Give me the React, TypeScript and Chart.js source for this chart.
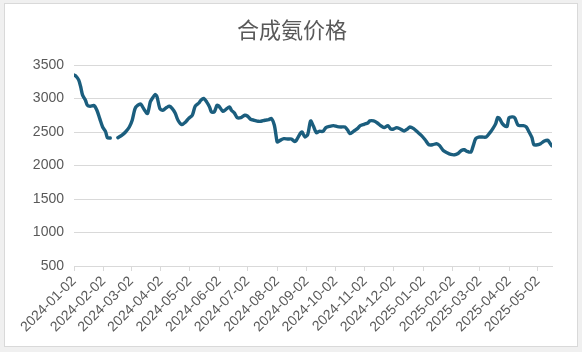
import React, { useEffect, useRef } from "react";
import { Chart, registerables } from "chart.js";

Chart.register(...registerables);

const TITLE = "合成氨价格";

const dates: string[] = [
  "2024-01-02","2024-01-04","2024-01-07","2024-01-09","2024-01-11","2024-01-14","2024-01-16","2024-01-19",
  "2024-01-23","2024-01-26","2024-01-29","2024-02-01","2024-02-04","2024-02-06","2024-02-09","2024-02-12",
  "2024-02-17","2024-02-21","2024-02-25","2024-02-29","2024-03-03","2024-03-06","2024-03-09","2024-03-12",
  "2024-03-16","2024-03-19","2024-03-22","2024-03-24","2024-03-27","2024-03-29","2024-04-01","2024-04-04",
  "2024-04-08","2024-04-11","2024-04-14","2024-04-17","2024-04-20","2024-04-24","2024-04-28","2024-05-01",
  "2024-05-05","2024-05-08","2024-05-12","2024-05-14","2024-05-17","2024-05-20","2024-05-23","2024-05-25",
  "2024-05-28","2024-05-31","2024-06-02","2024-06-06","2024-06-09","2024-06-13","2024-06-15","2024-06-18",
  "2024-06-21","2024-06-25","2024-06-29","2024-07-02","2024-07-05","2024-07-09","2024-07-13","2024-07-16",
  "2024-07-20","2024-07-24","2024-07-27","2024-07-30","2024-08-01","2024-08-02","2024-08-05","2024-08-09",
  "2024-08-13","2024-08-17","2024-08-20","2024-08-22","2024-08-26","2024-08-28","2024-08-31","2024-09-03",
  "2024-09-06","2024-09-09","2024-09-12","2024-09-15","2024-09-19","2024-09-22","2024-09-26","2024-09-30",
  "2024-10-04","2024-10-08","2024-10-12","2024-10-15","2024-10-17","2024-10-21","2024-10-25","2024-10-28",
  "2024-11-01","2024-11-05","2024-11-07","2024-11-11","2024-11-15","2024-11-18","2024-11-22","2024-11-26",
  "2024-11-29","2024-12-02","2024-12-05","2024-12-09","2024-12-13","2024-12-17","2024-12-19","2024-12-23",
  "2024-12-27","2024-12-31","2025-01-04","2025-01-08","2025-01-12","2025-01-16","2025-01-19","2025-01-23",
  "2025-01-27","2025-01-31","2025-02-04","2025-02-07","2025-02-11","2025-02-14","2025-02-17","2025-02-21",
  "2025-02-23","2025-02-26","2025-03-01","2025-03-05","2025-03-09","2025-03-13","2025-03-16","2025-03-19",
  "2025-03-21","2025-03-23","2025-03-26","2025-03-29","2025-03-31","2025-04-02","2025-04-06","2025-04-08",
  "2025-04-11","2025-04-13","2025-04-17","2025-04-20","2025-04-23","2025-04-26","2025-04-28","2025-05-02",
  "2025-05-05","2025-05-09","2025-05-13","2025-05-14","2025-05-17",
];

const prices: (number | null)[] = [
  3350, 3335, 3275, 3175, 3050, 2975, 2900, 2885,
  2895, 2825, 2700, 2575, 2510, 2415, 2410, null,
  2415, 2450, 2500, 2575, 2675, 2850, 2900, 2915,
  2825, 2775, 2950, 3000, 3060, 3025, 2850, 2825,
  2865, 2885, 2850, 2785, 2675, 2610, 2650, 2700,
  2750, 2885, 2935, 2975, 3000, 2950, 2875, 2800,
  2800, 2900, 2885, 2810, 2835, 2875, 2825, 2785,
  2715, 2715, 2750, 2735, 2690, 2675, 2660, 2660,
  2675, 2685, 2700, 2600, 2425, 2350, 2375, 2400,
  2395, 2395, 2360, 2375, 2475, 2500, 2425, 2465,
  2665, 2585, 2490, 2510, 2510, 2565, 2585, 2595,
  2580, 2575, 2575, 2525, 2475, 2510, 2550, 2595,
  2615, 2635, 2665, 2665, 2635, 2600, 2565, 2595,
  2545, 2545, 2565, 2545, 2515, 2550, 2575, 2550,
  2500, 2450, 2385, 2310, 2310, 2325, 2300, 2225,
  2190, 2165, 2160, 2175, 2225, 2235, 2210, 2200,
  2275, 2400, 2425, 2425, 2425, 2490, 2550, 2625,
  2715, 2700, 2625, 2585, 2585, 2715, 2725, 2710,
  2610, 2595, 2595, 2575, 2500, 2415, 2310, 2310,
  2325, 2365, 2375, 2350, 2290,
];

const tickDates: string[] = [
  "2024-01-02","2024-02-02","2024-03-02","2024-04-02","2024-05-02","2024-06-02",
  "2024-07-02","2024-08-02","2024-09-02","2024-10-02","2024-11-02","2024-12-02",
  "2025-01-02","2025-02-02","2025-03-02","2025-04-02","2025-05-02",
];

const yTicks: number[] = [500, 1000, 1500, 2000, 2500, 3000, 3500];

const DAY = 86400000;
const origin = Date.parse(dates[0] + "T00:00:00Z");
const toDay = (d: string) => Math.round((Date.parse(d + "T00:00:00Z") - origin) / DAY);

const titlePlugin = {
  id: "centerTitle",
  afterDraw(chart: any) {
    const ctx = chart.ctx;
    ctx.save();
    ctx.fillStyle = "#595959";
    ctx.font = "normal 22px 'Noto Sans CJK SC', sans-serif";
    ctx.textAlign = "center";
    ctx.textBaseline = "middle";
    ctx.fillText(TITLE, chart.width / 2 + 1, 30);
    ctx.restore();
  },
};

export default function App() {
  const ref = useRef<HTMLCanvasElement | null>(null);

  useEffect(() => {
    if (!ref.current) return;
    const points = dates.map((d, i) => ({ x: toDay(d), y: prices[i] }));
    const tickPos = tickDates.map(toDay);
    const lastX = toDay(dates[dates.length - 1]);
    const font = "'Liberation Sans', Arial, sans-serif";

    const chart = new Chart(ref.current, {
      type: "line",
      data: {
        datasets: [
          {
            data: points as any,
            borderColor: "#1B5E7E",
            backgroundColor: "#1B5E7E",
            borderWidth: 3.4,
            pointRadius: 0,
            tension: 0.25,
            spanGaps: false,
            borderCapStyle: "round",
            borderJoinStyle: "round",
          },
        ],
      },
      plugins: [titlePlugin],
      options: {
        animation: false,
        responsive: false,
        maintainAspectRatio: false,
        layout: { padding: { top: 65, left: 4, right: 30, bottom: 4 } },
        plugins: {
          legend: { display: false },
          tooltip: { enabled: false },
          title: { display: false },
        },
        scales: {
          x: {
            type: "linear",
            min: 0,
            max: lastX,
            afterBuildTicks: (scale: any) => {
              scale.ticks = tickPos.map((v) => ({ value: v }));
            },
            afterFit: (scale: any) => {
              scale.height = 82;
            },
            ticks: {
              autoSkip: false,
              maxRotation: 45,
              minRotation: 45,
              color: "#595959",
              font: { family: font, size: 14 },
              padding: 2,
              callback: (_v: any, i: number) => tickDates[i],
            },
            grid: {
              display: true,
              drawOnChartArea: false,
              drawTicks: true,
              tickLength: 5,
              color: "#D9D9D9",
            },
            border: { display: true, color: "#D9D9D9", width: 1 },
          },
          y: {
            min: 500,
            max: 3500,
            afterBuildTicks: (scale: any) => {
              scale.ticks = yTicks.map((v) => ({ value: v }));
            },
            afterFit: (scale: any) => {
              scale.width = 70;
            },
            ticks: {
              color: "#595959",
              font: { family: font, size: 14 },
              padding: 10,
              callback: (v: any) => String(v),
            },
            grid: {
              color: "#D9D9D9",
              lineWidth: 1,
              drawTicks: false,
            },
            border: { display: false },
          },
        },
      },
    });
    return () => chart.destroy();
  }, []);

  return (
    <div
      style={{
        position: "fixed",
        left: 0,
        top: 0,
        width: 582,
        height: 352,
        background: "#F0F0F0",
      }}
    >
      <div
        style={{
          position: "absolute",
          left: 4,
          top: 3,
          width: 572,
          height: 342,
          background: "#FFFFFF",
          border: "1px solid #D9D9D9",
        }}
      />
      <canvas
        ref={ref}
        width={582}
        height={352}
        style={{ position: "absolute", left: 0, top: 0, width: 582, height: 352 }}
      />
    </div>
  );
}
